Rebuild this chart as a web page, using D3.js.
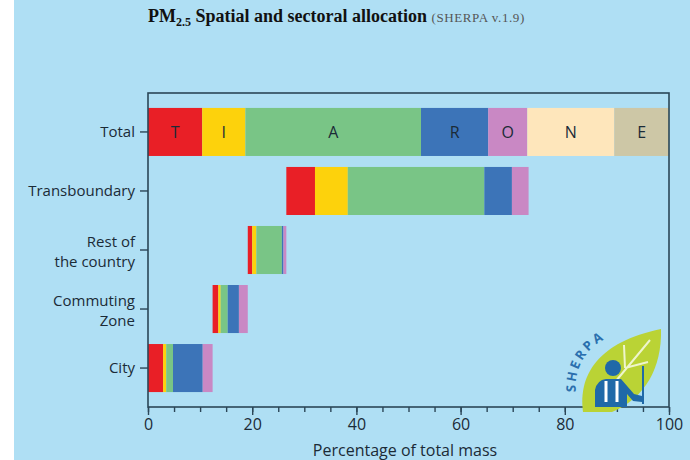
<!DOCTYPE html>
<html>
<head>
<meta charset="utf-8">
<script src="https://cdn.jsdelivr.net/npm/d3@7"></script>
<style>
	body { margin: 0; background: #fff; }
	svg { display: block; }
</style>
</head>
<body>
<script>
// rows from top to bottom
const categories = ["Total", "Transboundary", "Rest of|the country", "Commuting|Zone", "City"];
const sectors = ["T", "I", "A", "R", "O", "N", "E"];
const sectorColors = ["#e91f26", "#fdd20c", "#79c586", "#3c74b8", "#c988c4", "#fee6bb", "#cdc7a6"];

// percentage of total mass by sector, per row
const totalValues = [10.4, 8.3, 33.7, 12.9, 7.5, 16.7, 10.5];
const transboundaryValues = [5.5, 6.3, 26.2, 5.3, 3.2, 0, 0];
const restValues = [0.85, 0.8, 4.9, 0.3, 0.55, 0, 0];
const commutingValues = [1.1, 0.45, 1.35, 2.15, 1.7, 0, 0];
const cityValues = [2.9, 0.6, 1.3, 5.7, 1.9, 0, 0];

const majorTicks = [0, 20, 40, 60, 80, 100];
const minorTicks = d3.range(0, 101, 5);

const width = 690;
const height = 460;
const margin = { top: 93, right: 21, bottom: 53, left: 148 };
const sansFont = "'Open Sans', sans-serif";
const ink = "#1b2b37";

document.addEventListener("DOMContentLoaded", () => {
	let svg = d3.select("body")
		.append("svg")
		.attr("width", width)
		.attr("height", height);

	svg.append("rect").attr("width", width).attr("height", height).attr("fill", "#fff");
	svg.append("rect").attr("x", 14).attr("width", width - 14).attr("height", height).attr("fill", "#afdff4");

	// waterfall: city starts at 0, each next row starts where the one below ends, total from 0
	let rows = [totalValues, transboundaryValues, restValues, commutingValues, cityValues];
	let starts = [0, 0, 0, 0, 0];
	for (let i = 3; i >= 1; i--) {
		starts[i] = starts[i + 1] + d3.sum(rows[i + 1]);
	}

	let xScale = d3.scaleLinear()
		.domain([0, 100])
		.range([margin.left, width - margin.right]);
	let yScale = d3.scaleBand()
		.domain(categories)
		.range([margin.top, height - margin.bottom])
		.paddingInner(0.186)
		.paddingOuter(0.253);

	let segments = [];
	rows.forEach((vals, r) => {
		let acc = starts[r];
		vals.forEach((v, s) => {
			if (v > 0) {
				segments.push({ row: categories[r], sector: s, x0: acc, x1: acc + v, labelled: r == 0 });
			}
			acc += v;
		});
	});

	svg.append("g")
		.selectAll("rect")
		.data(segments)
		.enter()
		.append("rect")
		.attr("x", (d) => xScale(d.x0))
		.attr("y", (d) => yScale(d.row))
		.attr("width", (d) => xScale(d.x1) - xScale(d.x0))
		.attr("height", yScale.bandwidth())
		.attr("fill", (d) => sectorColors[d.sector]);

	svg.append("g")
		.selectAll("text")
		.data(segments.filter((d) => d.labelled))
		.enter()
		.append("text")
		.attr("x", (d) => xScale((d.x0 + d.x1) / 2))
		.attr("y", (d) => yScale(d.row) + yScale.bandwidth() / 2 + 6)
		.attr("text-anchor", "middle")
		.style("font-family", sansFont)
		.attr("font-size", 16)
		.attr("fill", ink)
		.text((d) => sectors[d.sector]);

	// frame
	svg.append("rect")
		.attr("x", margin.left)
		.attr("y", margin.top)
		.attr("width", width - margin.left - margin.right)
		.attr("height", height - margin.top - margin.bottom)
		.attr("fill", "none")
		.attr("stroke", "#2b4657")
		.attr("stroke-width", 1.6);

	// x axis
	let xAxis = d3.axisBottom(xScale).tickValues(majorTicks).tickSize(8).tickPadding(4);
	let xMinor = d3.axisBottom(xScale).tickValues(minorTicks).tickSize(5).tickFormat("");
	let gx = svg.append("g")
		.attr("transform", "translate(0," + (height - margin.bottom) + ")")
		.call(xAxis);
	svg.append("g")
		.attr("transform", "translate(0," + (height - margin.bottom) + ")")
		.call(xMinor)
		.select(".domain").remove();
	gx.select(".domain").remove();
	svg.selectAll(".tick line").attr("stroke", "#2b4657").attr("stroke-width", 1.4);
	gx.selectAll("text")
		.style("font-family", sansFont)
		.attr("font-size", 16)
		.attr("fill", ink);

	svg.append("text")
		.attr("x", 405)
		.attr("y", 456)
		.attr("text-anchor", "middle")
		.style("font-family", sansFont)
		.attr("font-size", 16)
		.attr("fill", ink)
		.text("Percentage of total mass");

	// y axis
	let yAxis = d3.axisLeft(yScale).tickSize(8).tickPadding(7).tickFormat("");
	let gy = svg.append("g")
		.attr("transform", "translate(" + margin.left + ",0)")
		.call(yAxis);
	gy.select(".domain").remove();
	gy.selectAll(".tick line").attr("stroke", "#2b4657").attr("stroke-width", 1.4);
	gy.selectAll(".tick")
		.append("text")
		.attr("text-anchor", "end")
		.style("font-family", sansFont)
		.attr("font-size", 15)
		.attr("fill", ink)
		.each(function (d) {
			let lines = d.split("|");
			let t = d3.select(this);
			lines.forEach((line, i) => {
				t.append("tspan")
					.attr("x", -13)
					.attr("y", lines.length == 1 ? 5 : -3 + i * 20)
					.text(line);
			});
		});

	// title
	let title = svg.append("text")
		.attr("x", 148)
		.attr("y", 22)
		.style("font-family", "'Liberation Serif', serif")
		.attr("font-weight", "bold")
		.attr("font-size", 18)
		.attr("fill", "#111");
	title.append("tspan").text("PM");
	title.append("tspan").attr("font-size", 12).attr("dy", 4).text("2.5");
	title.append("tspan").attr("dy", -4).text(" Spatial and sectoral allocation ");
	title.append("tspan").attr("font-weight", "normal").attr("font-size", 13).attr("fill", "#555")
		.attr("letter-spacing", 0.6)
		.text("(SHERPA v.1.9)");

	drawLogo(svg);
});

function drawLogo(svg) {
	let g = svg.append("g");
	// leaf
	g.append("path")
		.attr("d", "M583,412 C578,375 598,342 661,329 C662,368 645,398 612,412 Z")
		.attr("fill", "#bad335");
	g.append("path")
		.attr("d", "M596,405 L650,340 M625,368 L648,362 M625,368 L624,345")
		.attr("stroke", "#eef5cc")
		.attr("stroke-width", 2)
		.attr("fill", "none");
	// figure
	g.append("circle").attr("cx", 613).attr("cy", 368).attr("r", 8).attr("fill", "#1f69a8");
	g.append("path")
		.attr("d", "M595,407 L595,390 Q597,380 606,379 L621,379 L634,394 L642,396 L642,402 L633,401 L627,394 L627,407 Z")
		.attr("fill", "#1f69a8");
	g.append("path")
		.attr("d", "M606,381 L606,402 M617,381 L617,402")
		.attr("stroke", "#ffffff")
		.attr("stroke-width", 3);
	g.append("line")
		.attr("x1", 643).attr("y1", 366).attr("x2", 643).attr("y2", 404)
		.attr("stroke", "#1f69a8").attr("stroke-width", 2);
	// curved name
	g.append("path")
		.attr("id", "logoArc")
		.attr("d", "M576,392 A52,52 0 0,1 628,334")
		.attr("fill", "none");
	g.append("text")
		.style("font-family", sansFont)
		.attr("font-size", 13)
		.attr("font-weight", "bold")
		.attr("fill", "#2a6fae")
		.attr("letter-spacing", 2.5)
		.append("textPath")
		.attr("href", "#logoArc")
		.text("SHERPA");
}
</script>
</body>
</html>
